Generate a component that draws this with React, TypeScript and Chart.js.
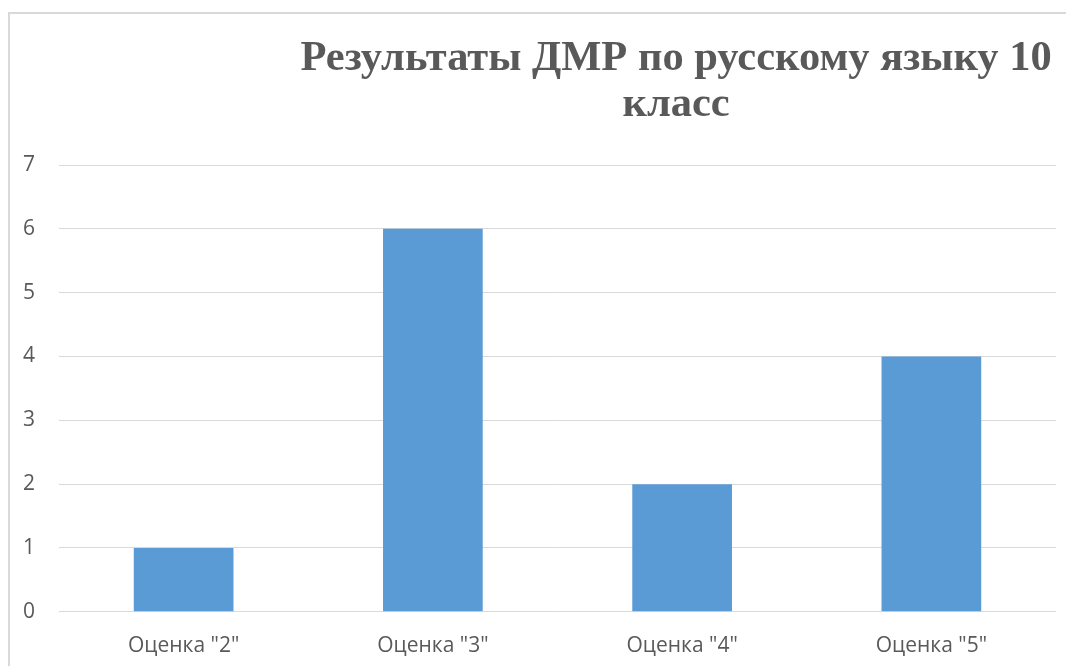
import React, { useEffect, useRef } from "react";
import { Chart, registerables } from "chart.js";

Chart.register(...registerables);

const categories = ['Оценка "2"', 'Оценка "3"', 'Оценка "4"', 'Оценка "5"'];
const values = [1, 6, 2, 4];
const titleLines = ["Результаты ДМР по русскому языку 10", "класс"];
const yTicks = [0, 1, 2, 3, 4, 5, 6, 7];

const titlePlugin = {
  id: "customTitle",
  afterDraw(chart: any) {
    const ctx = chart.ctx;
    ctx.save();
    ctx.font = 'bold 42.5px "Liberation Serif", "Times New Roman", serif';
    ctx.fillStyle = "#595959";
    ctx.textAlign = "center";
    ctx.textBaseline = "alphabetic";
    const cx = chart.width * 0.626;
    ctx.fillText(titleLines[0], cx, 56);
    ctx.fillText(titleLines[1], cx, 102);
    ctx.restore();
  },
};

export default function App() {
  const ref = useRef<HTMLCanvasElement>(null);
  useEffect(() => {
    document.body.style.overflow = "hidden";
    const chart = new Chart(ref.current!, {
      type: "bar",
      data: {
        labels: categories,
        datasets: [
          {
            data: values,
            backgroundColor: "#5b9bd5",
            barPercentage: 0.8,
            categoryPercentage: 0.5,
          },
        ],
      },
      options: {
        animation: false,
        responsive: true,
        maintainAspectRatio: false,
        layout: { padding: { top: 151, right: 18, left: 0, bottom: 0 } },
        plugins: { legend: { display: false }, title: { display: false }, tooltip: { enabled: false } },
        scales: {
          x: {
            grid: { display: false },
            border: { display: false },
            ticks: { color: "#595959", font: { family: '"Open Sans", sans-serif', size: 21 }, padding: 14 },
          },
          y: {
            min: 0,
            max: 7,
            afterBuildTicks: (axis: any) => {
              axis.ticks = yTicks.map((v) => ({ value: v }));
            },
            afterFit: (axis: any) => {
              axis.width = 49;
            },
            grid: { color: "#d9d9d9", lineWidth: 1, drawTicks: false },
            border: { display: false },
            ticks: { color: "#595959", font: { family: '"Open Sans", sans-serif', size: 21 }, padding: 24 },
          },
        },
      },
      plugins: [titlePlugin],
    });
    return () => chart.destroy();
  }, []);
  return (
    <div
      style={{
        marginTop: 4,
        borderTop: "2px solid #d9d9d9",
        borderLeft: "2px solid #d9d9d9",
        width: 1100,
        height: 700,
        boxSizing: "border-box",
      }}
    >
      <div style={{ width: 1064, height: 659, position: "relative" }}>
        <canvas ref={ref} />
      </div>
    </div>
  );
}
